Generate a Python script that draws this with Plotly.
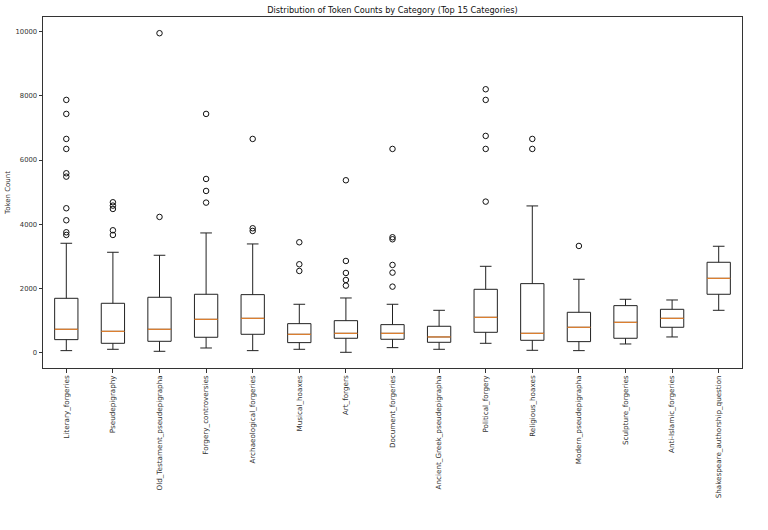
import plotly.graph_objects as go

categories = ["Literary_forgeries", "Pseudepigraphy", "Old_Testament_pseudepigrapha",
              "Forgery_controversies", "Archaeological_forgeries", "Musical_hoaxes",
              "Art_forgers", "Document_forgeries", "Ancient_Greek_pseudepigrapha",
              "Political_forgery", "Religious_hoaxes", "Modern_pseudepigrapha",
              "Sculpture_forgeries", "Anti-Islamic_forgeries", "Shakespeare_authorship_question"]

lower_whisker = [73, 114, 52, 155, 73, 114, 21, 166, 114, 301, 83, 73, 280, 498, 1327]
q1 = [415, 301, 363, 488, 581, 322, 457, 426, 332, 643, 394, 353, 457, 799, 1825]
median = [737, 674, 737, 1047, 1078, 581, 612, 612, 498, 1109, 612, 799, 954, 1078, 2322]
q3 = [1700, 1545, 1732, 1825, 1814, 912, 1005, 881, 830, 1980, 2156, 1265, 1472, 1358, 2820]
upper_whisker = [3411, 3131, 3038, 3732, 3390, 1514, 1710, 1514, 1327, 2695, 4572, 2292, 1670, 1648, 3318]

outliers = [
    [3670, 3753, 4126, 4500, 5483, 5588, 6344, 6655, 7433, 7868],
    [3670, 3815, 4478, 4582, 4686],
    [4230, 9942],
    [4675, 5038, 5411, 7433],
    [3794, 3878, 6655],
    [2550, 2758, 3442],
    [2094, 2270, 2488, 2861, 5370],
    [2063, 2498, 2737, 3535, 3598, 6344],
    [],
    [4706, 6344, 6749, 7868, 8200],
    [6344, 6655],
    [3328],
    [],
    [],
    [],
]

y_ticks = [0, 2000, 4000, 6000, 8000, 10000]
y_tick_labels = ["0", "2000", "4000", "6000", "8000", "10000"]

positions = list(range(1, len(categories) + 1))
box_width = 0.5

fig = go.Figure()

fig.add_trace(go.Box(
    x=positions, q1=q1, median=median, q3=q3,
    lowerfence=lower_whisker, upperfence=upper_whisker,
    width=box_width, whiskerwidth=0.5,
    line=dict(color="#222222", width=1),
    fillcolor="rgba(0,0,0,0)",
    boxpoints=False, showlegend=False, hoverinfo="skip",
))

mx, my = [], []
for p, m in zip(positions, median):
    mx += [p - box_width / 2, p + box_width / 2, None]
    my += [m, m, None]
fig.add_trace(go.Scatter(x=mx, y=my, mode="lines",
                         line=dict(color="#ff8c2a", width=1),
                         showlegend=False, hoverinfo="skip"))

ox, oy = [], []
for p, outs in zip(positions, outliers):
    for v in outs:
        ox.append(p)
        oy.append(v)
fig.add_trace(go.Scatter(x=ox, y=oy, mode="markers",
                         marker=dict(symbol="circle-open", size=5.5, color="#111111",
                                     line=dict(width=1, color="#111111")),
                         showlegend=False, hoverinfo="skip"))

font_family = "DejaVu Sans"
text_color = "#333333"
fig.update_layout(
    width=768, height=530,
    margin=dict(l=43, r=26, t=17, b=162),
    paper_bgcolor="white", plot_bgcolor="white",
    font=dict(family=font_family, size=7, color=text_color),
    title=dict(text="Distribution of Token Counts by Category (Top 15 Categories)",
               x=(43 + 742) / 2 / 768, xanchor="center", y=1 - 10 / 530, yanchor="middle",
               font=dict(size=8.2, family=font_family, color="#111111")),
    xaxis=dict(range=[0.5, 15.5], tickmode="array", tickvals=positions, ticktext=categories,
               tickangle=-90, showgrid=False, zeroline=False, showline=True, mirror=True,
               linecolor="#333333", linewidth=1, ticks="outside", ticklen=3.5,
               tickcolor="#333333", tickfont=dict(size=7.2, color=text_color),
               automargin=False),
    yaxis=dict(range=[-467, 10446], tickmode="array",
               tickvals=y_ticks, ticktext=y_tick_labels,
               showgrid=False, zeroline=False, showline=True, mirror=True,
               linecolor="#333333", linewidth=1, ticks="outside", ticklen=3.5,
               tickcolor="#333333", tickfont=dict(size=6.8, color=text_color),
               title=dict(text="Token Count", font=dict(size=7, color=text_color), standoff=4),
               automargin=False),
)

fig.write_html("out.html")
